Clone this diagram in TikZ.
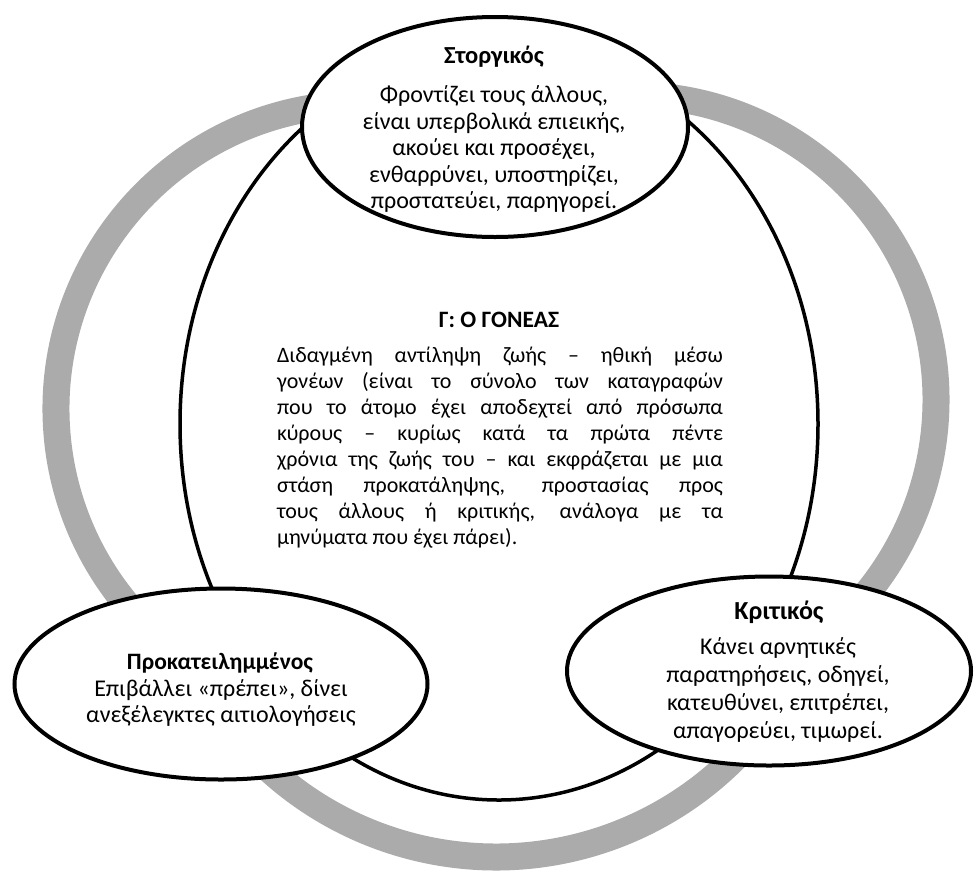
\documentclass[tikz,border=0pt]{standalone}
\usepackage{fontspec}
\setmainfont{Carlito}
\usetikzlibrary{shapes.geometric}
\definecolor{ringgray}{RGB}{171,171,171}
\begin{document}
\begin{tikzpicture}[x=1pt,y=-1pt]
\tikzset{
  ring/.style={draw=ringgray, line width=27pt},
  bubble/.style={ellipse, draw=black, fill=white, line width=4pt, inner sep=0pt},
  ttl/.style={inner sep=0pt},
  txt/.style={align=center, inner sep=0pt},
}
\useasboundingbox[fill=white] (0,0) rectangle (976,871);
% gray ring: three arcs between the outer ellipses
\coordinate (lc) at (361,409);
\coordinate (rc) at (631,400);
\coordinate (bc) at (496,520);
\draw[ring] ([shift={(97:305pt)}]lc) arc[start angle=97, end angle=225, radius=305pt];
\draw[ring] ([shift={(85:305pt)}]rc) arc[start angle=85, end angle=-45, radius=305pt];
\draw[ring] ([shift={(222:337pt)}]bc) arc[start angle=222, end angle=318, radius=337pt];
% central ellipse
\node[bubble, line width=3.5pt, minimum width=638pt, minimum height=752pt] (parentE) at (499,424) {};
% top ellipse
\node[bubble, minimum width=386pt, minimum height=220pt] (storgE) at (495,127) {};
% bottom left
\node[bubble, minimum width=413pt, minimum height=191pt] (prokE) at (221,684) {};
% bottom right
\node[bubble, minimum width=404pt, minimum height=189pt] (kritE) at (769,671) {};

% texts
\node[ttl, font=\fontsize{24.5}{27}\selectfont\bfseries] (storgT) at (494,57) {Στοργικός};
\node[txt, font=\fontsize{24}{26.5}\selectfont] (storgB) at (494,149)
  {Φροντίζει τους άλλους,\\είναι υπερβολικά επιεικής,\\ακούει και προσέχει,\\ενθαρρύνει, υποστηρίζει,\\προστατεύει, παρηγορεί.};

\node[ttl, font=\fontsize{23.5}{26}\selectfont\bfseries] (parentT) at (499,320) {Γ: Ο ΓΟΝΕΑΣ};
\node[inner sep=0pt, align=left, font=\fontsize{22}{25.9}\selectfont] (parentB) at (500,447.5) {%
\makebox[446pt][s]{Διδαγμένη αντίληψη ζωής – ηθική μέσω}\\
\makebox[446pt][s]{γονέων (είναι το σύνολο των καταγραφών}\\
\makebox[446pt][s]{που το άτομο έχει αποδεχτεί από πρόσωπα}\\
\makebox[446pt][s]{κύρους – κυρίως κατά τα πρώτα πέντε}\\
\makebox[446pt][s]{χρόνια της ζωής του – και εκφράζεται με μια}\\
\makebox[446pt][s]{στάση προκατάληψης, προστασίας προς}\\
\makebox[446pt][s]{τους άλλους ή κριτικής, ανάλογα με τα}\\
\makebox[446pt][l]{μηνύματα που έχει πάρει).}};

\node[ttl, font=\fontsize{23.5}{26}\selectfont\bfseries] (prokT) at (220,663) {Προκατειλημμένος};
\node[txt, font=\fontsize{24}{26.5}\selectfont] (prokB) at (221,703)
  {Επιβάλλει «πρέπει», δίνει\\ανεξέλεγκτες αιτιολογήσεις};

\node[ttl, font=\fontsize{26}{30}\selectfont\bfseries] (kritT) at (779,612) {Κριτικός};
\node[txt, font=\fontsize{24}{27.7}\selectfont] (kritB) at (778,690)
  {Κάνει αρνητικές\\παρατηρήσεις, οδηγεί,\\κατευθύνει, επιτρέπει,\\απαγορεύει, τιμωρεί.};
\end{tikzpicture}
\end{document}
